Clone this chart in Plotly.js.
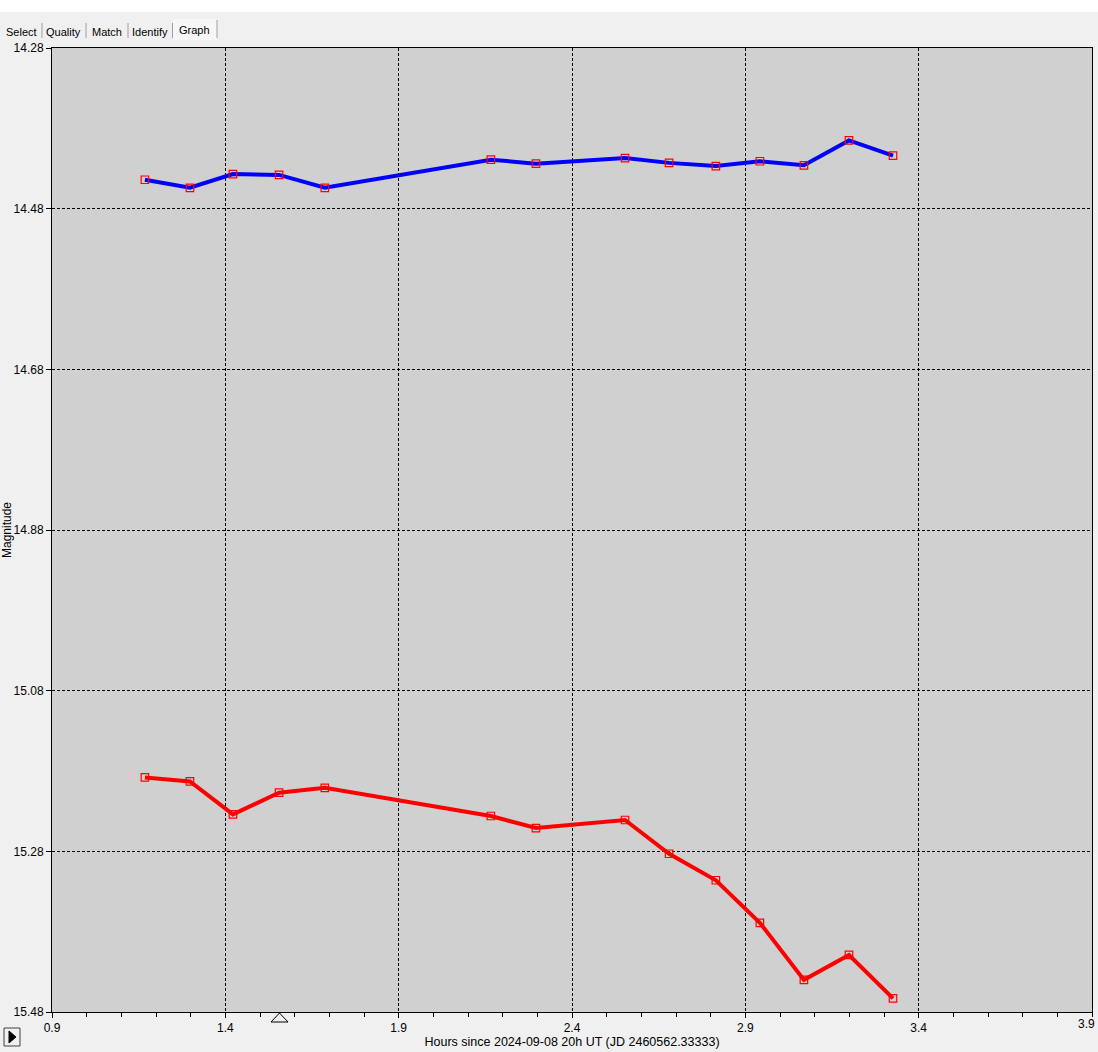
<!DOCTYPE html>
<html>
<head>
<meta charset="utf-8">
<script src="https://cdn.plot.ly/plotly-3.0.1.min.js"></script>
<style>
html,body{margin:0;padding:0;background:#f0f0f0;}
#chart{width:1098px;height:1052px;}
</style>
</head>
<body>
<div id="chart"></div>
<script>
// Data
var hours = [1.168, 1.298, 1.422, 1.555, 1.687, 2.166, 2.296, 2.553, 2.680, 2.815, 2.942, 3.069, 3.199, 3.326];
var magBlue = [14.444, 14.454, 14.437, 14.438, 14.454, 14.419, 14.424, 14.417, 14.423, 14.427, 14.421, 14.426, 14.395, 14.414];
var magRed = [15.188, 15.193, 15.234, 15.207, 15.201, 15.236, 15.251, 15.241, 15.283, 15.316, 15.369, 15.440, 15.409, 15.463];
var xTicks = [0.9, 1.4, 1.9, 2.4, 2.9, 3.4, 3.9];
var yTicks = [14.28, 14.48, 14.68, 14.88, 15.08, 15.28, 15.48];
var tabNames = ["Select", "Quality", "Match", "Identify", "Graph"];
var xTitle = "Hours since 2024-09-08 20h UT (JD 2460562.33333)";
var yTitle = "Magnitude";

var FONT = "Liberation Sans, Arial, sans-serif";
function px(x){ return (x - 52) / 1040; }
function py(y){ return (1012 - y) / 964; }

var traces = [
  {x: hours, y: magBlue, type: 'scatter', mode: 'lines+markers',
   line: {color: '#0000ff', width: 4},
   marker: {symbol: 'square-open', size: 7.5, color: '#ff0000', line: {color: '#ff0000', width: 1.2}},
   hoverinfo: 'x+y'},
  {x: hours, y: magRed, type: 'scatter', mode: 'lines+markers',
   line: {color: '#ff0000', width: 4},
   marker: {symbol: 'square-open', size: 7.5, color: '#ff0000', line: {color: '#ff0000', width: 1.2}},
   hoverinfo: 'x+y'}
];

var tabX = [21, 63, 107, 150, 194];
var tabY = [32, 32, 32, 32, 30];
var annotations = [];
for (var i = 0; i < tabNames.length; i++) {
  annotations.push({text: tabNames[i], xref: 'paper', yref: 'paper', x: px(tabX[i]), y: py(tabY[i]),
    xanchor: 'center', yanchor: 'middle', showarrow: false, font: {family: FONT, size: 11, color: '#000'}});
}
// last x tick label, kept inside the page edge
var lastTick = xTicks[xTicks.length - 1];
annotations.push({text: lastTick.toFixed(1), xref: 'paper', yref: 'paper', x: px(1097), y: py(1015),
  xanchor: 'right', yanchor: 'top', showarrow: false, font: {family: FONT, size: 12, color: '#000'}});

var shapes = [
  {type: 'rect', xref: 'paper', yref: 'paper', x0: px(0), x1: px(1098), y0: py(0), y1: py(12),
   fillcolor: '#ffffff', line: {width: 0}, layer: 'below'},
  {type: 'rect', xref: 'paper', yref: 'paper', x0: px(173), x1: px(217), y0: py(19), y1: py(40),
   fillcolor: '#f7f7f7', line: {width: 0}, layer: 'below'},
  {type: 'rect', xref: 'paper', yref: 'paper', x0: px(4), x1: px(20), y0: py(1028), y1: py(1046),
   fillcolor: '#f0f0f0', line: {color: '#404040', width: 1}},
  {type: 'path', xref: 'paper', yref: 'paper',
   path: 'M ' + px(9) + ' ' + py(1031) + ' L ' + px(9) + ' ' + py(1043) + ' L ' + px(16) + ' ' + py(1037) + ' Z',
   fillcolor: '#000000', line: {color: '#000000', width: 1}},
  {type: 'path', xref: 'paper', yref: 'paper',
   path: 'M ' + px(279.5) + ' ' + py(1013) + ' L ' + px(271) + ' ' + py(1022) + ' L ' + px(288) + ' ' + py(1022) + ' Z',
   fillcolor: 'rgba(0,0,0,0)', line: {color: '#000000', width: 1}}
];
var sepX = [42, 86, 128, 172.5, 217];
for (var j = 0; j < sepX.length; j++) {
  shapes.push({type: 'line', xref: 'paper', yref: 'paper', x0: px(sepX[j]), x1: px(sepX[j]),
    y0: py(j === 4 ? 20 : 23), y1: py(38), line: {color: '#a0a0a0', width: 1}});
}

var layout = {
  width: 1098, height: 1052,
  margin: {l: 52, r: 6, t: 48, b: 40, pad: 0},
  paper_bgcolor: '#f0f0f0',
  plot_bgcolor: '#d0d0d0',
  showlegend: false,
  font: {family: FONT, size: 12, color: '#000'},
  xaxis: {
    range: [0.9, 3.9], tickvals: xTicks.slice(0, -1), ticktext: xTicks.slice(0, -1).map(function(v){return v.toFixed(1);}),
    showgrid: true, gridcolor: '#000000', gridwidth: 1, griddash: '3px,2px',
    showline: true, linecolor: '#000000', linewidth: 1, mirror: true,
    ticks: 'outside', ticklen: 5, tickcolor: '#000', tickwidth: 1,
    minor: {dtick: 0.1, tick0: 0.9, ticks: 'outside', ticklen: 4, tickcolor: '#000', showgrid: false},
    zeroline: false, tickfont: {family: FONT, size: 12, color: '#000'},
    title: {text: xTitle, font: {family: FONT, size: 12.5, color: '#000'}, standoff: 2}
  },
  yaxis: {
    range: [15.48, 14.28], tickvals: yTicks, ticktext: yTicks.map(function(v){return v.toFixed(2);}),
    showgrid: true, gridcolor: '#000000', gridwidth: 1, griddash: '3px,2px',
    showline: true, linecolor: '#000000', linewidth: 1, mirror: true,
    ticks: 'outside', ticklen: 5, tickcolor: '#000', tickwidth: 1,
    zeroline: false, tickfont: {family: FONT, size: 12, color: '#000'},
    title: {text: yTitle, font: {family: FONT, size: 12, color: '#000'}, standoff: 4}
  },
  annotations: annotations,
  shapes: shapes
};

Plotly.newPlot('chart', traces, layout, {displayModeBar: false, staticPlot: true});
</script>
</body>
</html>
